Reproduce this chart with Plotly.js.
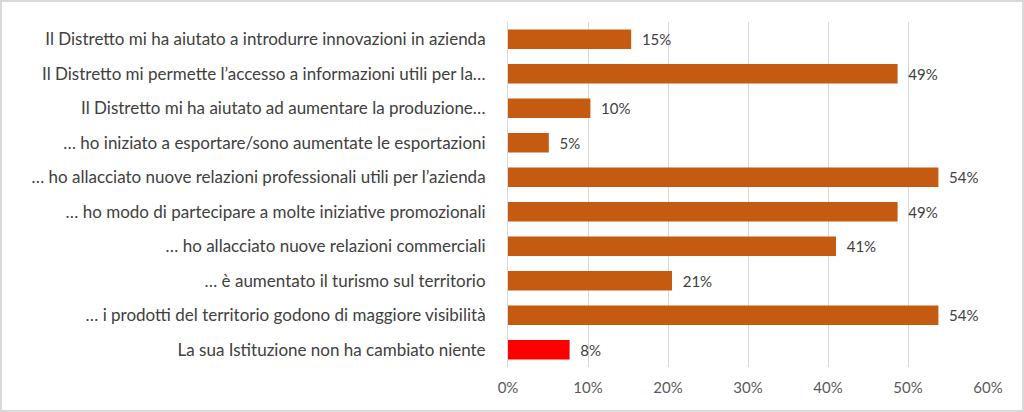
<!DOCTYPE html>
<html>
<head>
<meta charset="utf-8">
<script src="https://cdn.plot.ly/plotly-3.0.1.min.js"></script>
<style>
  html, body { margin: 0; padding: 0; background: #fff; }
  #wrap { position: relative; width: 1024px; height: 412px; }
  #chart { width: 1024px; height: 412px; }
  #frame { position: absolute; left: 0; top: 0; width: 1024px; height: 412px;
           box-sizing: border-box; border: 2px solid #d9d9d9; pointer-events: none; }
</style>
</head>
<body>
<div id="wrap">
  <div id="chart"></div>
  <div id="frame"></div>
</div>
<script>
// categories, top to bottom
const categories = [
  "Il Distretto mi ha aiutato a introdurre innovazioni in azienda",
  "Il Distretto mi permette l\u2019accesso a informazioni utili per la\u2026",
  "Il Distretto mi ha aiutato ad aumentare la produzione\u2026",
  "\u2026 ho iniziato a esportare/sono aumentate le esportazioni",
  "\u2026 ho allacciato nuove relazioni professionali utili per l\u2019azienda",
  "\u2026 ho modo di partecipare a molte iniziative promozionali",
  "\u2026 ho allacciato nuove relazioni commerciali",
  "\u2026 \u00e8 aumentato il turismo sul territorio",
  "\u2026 i prodotti del territorio godono di maggiore visibilit\u00e0",
  "La sua Istituzione non ha cambiato niente"
];
// share of answers (fraction)
const values = [0.154, 0.487, 0.103, 0.051, 0.538, 0.487, 0.410, 0.205, 0.538, 0.077];
const barColors = ["#C55A11", "#C55A11", "#C55A11", "#C55A11", "#C55A11",
                   "#C55A11", "#C55A11", "#C55A11", "#C55A11", "#FF0000"];
const tickVals = [0, 0.1, 0.2, 0.3, 0.4, 0.5, 0.6];
const tickText = ["0%", "10%", "20%", "30%", "40%", "50%", "60%"];

const labels = values.map(v => "\u00a0\u00a0" + Math.round(v * 100) + "%");

const trace = {
  type: "bar",
  orientation: "h",
  x: values,
  y: categories,
  marker: { color: barColors },
  text: labels,
  textposition: "outside",
  cliponaxis: false,
  textfont: { family: "Lato, 'Open Sans', sans-serif", size: 15, color: "#404040" },
  hoverinfo: "none"
};

const layout = {
  width: 1024,
  height: 412,
  margin: { l: 508, r: 36, t: 22, b: 45 },
  paper_bgcolor: "#ffffff",
  plot_bgcolor: "#ffffff",
  showlegend: false,
  bargap: 0.43,
  font: { family: "Lato, 'Open Sans', sans-serif", color: "#404040" },
  xaxis: {
    range: [0, 0.6],
    tickvals: tickVals,
    ticktext: tickText,
    showgrid: true,
    gridcolor: "#d9d9d9",
    gridwidth: 1,
    zeroline: false,
    showline: false,
    ticks: "",
    ticklabelstandoff: 10,
    tickfont: { size: 15, color: "#595959" },
    fixedrange: true
  },
  yaxis: {
    autorange: "reversed",
    showgrid: false,
    zeroline: false,
    showline: true,
    linecolor: "#d9d9d9",
    linewidth: 1,
    ticks: "",
    ticklabelstandoff: 18,
    tickfont: { size: 17, color: "#404040" },
    fixedrange: true
  }
};

Plotly.newPlot("chart", [trace], layout, { displayModeBar: false, staticPlot: true });
</script>
</body>
</html>
